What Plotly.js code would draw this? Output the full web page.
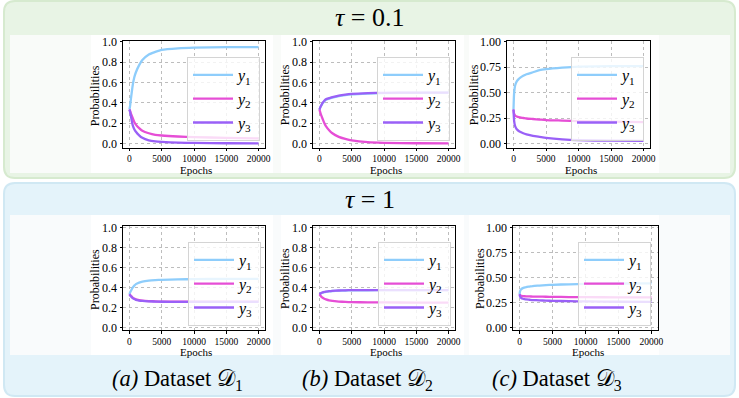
<!DOCTYPE html>
<html>
<head>
<meta charset="utf-8">
<script src="https://cdn.plot.ly/plotly-3.0.1.min.js"></script>
<style>html,body{margin:0;padding:0;background:#fff;}#chart{width:739px;height:398px;}</style>
</head>
<body>
<div id="chart"></div>
<script>
// ---- data ----
const epochs = [0, 100, 250, 500, 750, 1000, 1500, 2000, 3000, 4000, 5000, 7500, 10000, 15000, 20000];
const seriesNames = ['<i>y</i><sub>1</sub>', '<i>y</i><sub>2</sub>', '<i>y</i><sub>3</sub>'];
const panelCaptions = ['<i>(a)</i> Dataset 𝒟<sub>1</sub>', '<i>(b)</i> Dataset 𝒟<sub>2</sub>', '<i>(c)</i> Dataset 𝒟<sub>3</sub>'];
const rowTitles = ['<i>τ</i> = 0.1', '<i>τ</i> = 1'];
const xTitle = 'Epochs';
const yTitle = 'Probabilities';

// tau = 0.1
const t01_d1_y1 = [0.333, 0.37, 0.45, 0.57, 0.65, 0.70, 0.77, 0.82, 0.875, 0.90, 0.92, 0.935, 0.942, 0.946, 0.947];
const t01_d1_y2 = [0.333, 0.32, 0.29, 0.25, 0.21, 0.185, 0.15, 0.125, 0.10, 0.085, 0.078, 0.068, 0.062, 0.055, 0.05];
const t01_d1_y3 = [0.333, 0.31, 0.26, 0.18, 0.14, 0.115, 0.08, 0.055, 0.03, 0.02, 0.015, 0.008, 0.005, 0.002, 0.001];

const t01_d2_y1 = [0.333, 0.35, 0.37, 0.395, 0.415, 0.43, 0.44, 0.45, 0.465, 0.475, 0.482, 0.49, 0.495, 0.498, 0.499];
const t01_d2_y2 = [0.333, 0.31, 0.28, 0.24, 0.20, 0.17, 0.13, 0.10, 0.065, 0.045, 0.03, 0.012, 0.006, 0.002, 0.001];
const t01_d2_y3 = [0.333, 0.35, 0.37, 0.40, 0.42, 0.435, 0.445, 0.455, 0.47, 0.48, 0.487, 0.495, 0.498, 0.50, 0.50];

const t01_d3_y1 = [0.333, 0.50, 0.57, 0.61, 0.63, 0.645, 0.665, 0.68, 0.70, 0.72, 0.73, 0.745, 0.755, 0.76, 0.76];
const t01_d3_y2 = [0.333, 0.29, 0.275, 0.265, 0.26, 0.255, 0.25, 0.245, 0.24, 0.235, 0.23, 0.225, 0.22, 0.215, 0.21];
const t01_d3_y3 = [0.333, 0.22, 0.17, 0.14, 0.125, 0.115, 0.10, 0.09, 0.075, 0.065, 0.055, 0.04, 0.032, 0.027, 0.025];

// tau = 1
const t1_d1_y1 = [0.333, 0.35, 0.37, 0.40, 0.42, 0.435, 0.45, 0.46, 0.47, 0.475, 0.478, 0.482, 0.485, 0.487, 0.488];
const t1_d1_y2 = [0.333, 0.325, 0.315, 0.30, 0.29, 0.282, 0.275, 0.27, 0.265, 0.262, 0.26, 0.26, 0.26, 0.26, 0.26];
const t1_d1_y3 = [0.333, 0.322, 0.31, 0.295, 0.285, 0.277, 0.27, 0.266, 0.262, 0.26, 0.258, 0.257, 0.256, 0.256, 0.256];

const t1_d2_y1 = [0.333, 0.337, 0.344, 0.35, 0.355, 0.358, 0.363, 0.366, 0.369, 0.371, 0.372, 0.373, 0.374, 0.374, 0.375];
const t1_d2_y2 = [0.333, 0.325, 0.312, 0.298, 0.288, 0.282, 0.272, 0.266, 0.26, 0.256, 0.254, 0.252, 0.251, 0.25, 0.25];
const t1_d2_y3 = [0.333, 0.338, 0.345, 0.352, 0.357, 0.36, 0.365, 0.368, 0.371, 0.373, 0.374, 0.375, 0.375, 0.375, 0.375];

const t1_d3_y1 = [0.333, 0.37, 0.385, 0.395, 0.40, 0.405, 0.41, 0.415, 0.42, 0.425, 0.428, 0.433, 0.437, 0.441, 0.443];
const t1_d3_y2 = [0.333, 0.322, 0.318, 0.315, 0.313, 0.312, 0.311, 0.31, 0.309, 0.308, 0.307, 0.305, 0.304, 0.302, 0.301];
const t1_d3_y3 = [0.333, 0.305, 0.295, 0.288, 0.284, 0.281, 0.278, 0.275, 0.272, 0.269, 0.267, 0.264, 0.261, 0.258, 0.256];

const xTickVals = [0, 5000, 10000, 15000, 20000];
const yTicksA = [0, 0.2, 0.4, 0.6, 0.8, 1.0];
const yTickTextA = ['0.0', '0.2', '0.4', '0.6', '0.8', '1.0'];
const yTicksB = [0, 0.25, 0.5, 0.75, 1.0];
const yTickTextB = ['0.00', '0.25', '0.50', '0.75', '1.00'];

// ---- styling / layout ----
const W = 739, H = 398;
const colors = ['#8ecdfb', '#e64ed6', '#9a60f7'];
const SERIF = 'Liberation Serif';
const INK = '#000000';

const panels = [
  {ys: [t01_d1_y1, t01_d1_y2, t01_d1_y3], px: [123, 265], py: [41, 147.5], yr: [-0.04, 1.007], tv: yTicksA, tt: yTickTextA, leg: [187, 57], yt: 95},
  {ys: [t01_d2_y1, t01_d2_y2, t01_d2_y3], px: [313, 455], py: [41, 147.5], yr: [-0.04, 1.007], tv: yTicksA, tt: yTickTextA, leg: [377, 57], yt: 285},
  {ys: [t01_d3_y1, t01_d3_y2, t01_d3_y3], px: [507, 650], py: [41, 147.5], yr: [-0.04, 1.007], tv: yTicksB, tt: yTickTextB, leg: [571, 57], yt: 474},
  {ys: [t1_d1_y1, t1_d1_y2, t1_d1_y3], px: [123, 265], py: [226, 330], yr: [-0.025, 1.017], tv: yTicksA, tt: yTickTextA, leg: [188, 242], yt: 95},
  {ys: [t1_d2_y1, t1_d2_y2, t1_d2_y3], px: [313, 455], py: [226, 330], yr: [-0.025, 1.017], tv: yTicksA, tt: yTickTextA, leg: [378, 242], yt: 285},
  {ys: [t1_d3_y1, t1_d3_y2, t1_d3_y3], px: [513, 658], py: [226, 330], yr: [-0.025, 1.017], tv: yTicksB, tt: yTickTextB, leg: [578, 242], yt: 480},
];

const data = [];
const layout = {
  width: W, height: H,
  margin: {l: 0, r: 0, t: 0, b: 0},
  paper_bgcolor: '#ffffff',
  plot_bgcolor: '#ffffff',
  showlegend: true,
  font: {family: SERIF, color: INK},
  shapes: [],
  annotations: []
};

function fx(p) { return p / W; }
function fy(p) { return 1 - p / H; }
function roundRect(x0, y0, x1, y1, r, fill, line, lw) {
  const rx = r / W, ry = r / H;
  const X0 = fx(x0), X1 = fx(x1), Y0 = fy(y0), Y1 = fy(y1);
  const path = `M ${X0 + rx},${Y0} L ${X1 - rx},${Y0} Q ${X1},${Y0} ${X1},${Y0 - ry} L ${X1},${Y1 + ry} Q ${X1},${Y1} ${X1 - rx},${Y1} L ${X0 + rx},${Y1} Q ${X0},${Y1} ${X0},${Y1 + ry} L ${X0},${Y0 - ry} Q ${X0},${Y0} ${X0 + rx},${Y0} Z`;
  return {type: 'path', xref: 'paper', yref: 'paper', path: path, fillcolor: fill, line: {color: line, width: lw}, layer: 'below'};
}
function rect(x0, y0, x1, y1, fill) {
  return {type: 'rect', xref: 'paper', yref: 'paper', x0: fx(x0), x1: fx(x1), y0: fy(y1), y1: fy(y0), fillcolor: fill, line: {width: 0}, layer: 'below'};
}

// background boxes
layout.shapes.push(roundRect(4, 1, 735, 178, 11, '#e8f4e5', '#d6eacf', 2));
layout.shapes.push(rect(10, 35, 730, 173, '#f9fbf9'));
layout.shapes.push(roundRect(4, 183, 735, 396, 11, '#e4f3fa', '#d0e8f3', 2));
layout.shapes.push(rect(10, 215, 730, 355, '#f9fbfc'));
[[91, 273], [281, 464], [469, 659]].forEach(r => {
  layout.shapes.push(rect(r[0], 35, r[1], 173, '#ffffff'));
  layout.shapes.push(rect(r[0], 215, r[1], 355, '#ffffff'));
});

panels.forEach((p, i) => {
  const n = i + 1;
  const sfx = n === 1 ? '' : String(n);
  const lg = 'legend' + sfx;
  p.ys.forEach((vals, k) => {
    data.push({
      x: epochs, y: vals, type: 'scatter', mode: 'lines',
      name: seriesNames[k], line: {color: colors[k], width: 2.3, shape: 'spline', smoothing: 0.6},
      xaxis: 'x' + sfx, yaxis: 'y' + sfx,
      legend: lg, showlegend: true
    });
  });
  const common = {
    showline: true, mirror: true, linecolor: '#000', linewidth: 1,
    ticks: 'outside', ticklen: 2.5, tickcolor: '#000', tickwidth: 1,
    showgrid: true, gridcolor: '#bdbdbd', griddash: 'dot', gridwidth: 1,
    zeroline: false
  };
  layout['xaxis' + sfx] = Object.assign({}, common, {
    domain: [fx(p.px[0]), fx(p.px[1])], anchor: 'y' + sfx,
    range: [-1000, 21000], tickvals: xTickVals, ticktext: xTickVals.map(String),
    tickfont: {family: SERIF, size: 9.5, color: INK}
  });
  layout['yaxis' + sfx] = Object.assign({}, common, {
    domain: [fy(p.py[1]), fy(p.py[0])], anchor: 'x' + sfx,
    range: p.yr, tickvals: p.tv, ticktext: p.tt,
    tickfont: {family: SERIF, size: 12, color: INK}
  });
  layout[lg] = {
    x: fx(p.leg[0]), y: fy(p.leg[1]), xanchor: 'left', yanchor: 'top',
    xref: 'paper', yref: 'paper',
    bgcolor: 'rgba(255,255,255,0.8)', bordercolor: '#d4d4d4', borderwidth: 1,
    font: {family: SERIF, size: 16, color: INK}, itemwidth: 40, tracegroupgap: 0
  };
  // axis titles placed at the reference positions
  layout.annotations.push({text: xTitle, xref: 'paper', yref: 'paper', x: fx((p.px[0] + p.px[1]) / 2 + 2), y: fy(p.py[1] + 22),
    xanchor: 'center', yanchor: 'middle', showarrow: false, font: {family: SERIF, size: 11, color: INK}});
  layout.annotations.push({text: yTitle, xref: 'paper', yref: 'paper', x: fx(p.yt), y: fy((p.py[0] + p.py[1]) / 2 + 1), textangle: -90,
    xanchor: 'center', yanchor: 'middle', showarrow: false, font: {family: SERIF, size: 12, color: INK}});
});

// row headers
layout.annotations.push({text: rowTitles[0], xref: 'paper', yref: 'paper', x: 0.5, y: fy(18), xanchor: 'center', yanchor: 'middle', showarrow: false, font: {family: SERIF, size: 26, color: INK}});
layout.annotations.push({text: rowTitles[1], xref: 'paper', yref: 'paper', x: 0.5, y: fy(200), xanchor: 'center', yanchor: 'middle', showarrow: false, font: {family: SERIF, size: 26, color: INK}});
// captions
[177, 367, 557].forEach((cx, i) => {
  layout.annotations.push({text: panelCaptions[i], xref: 'paper', yref: 'paper', x: fx(cx), y: fy(380), xanchor: 'center', yanchor: 'middle', showarrow: false, font: {family: SERIF, size: 22.5, color: INK}});
});

Plotly.newPlot('chart', data, layout, {staticPlot: true, displayModeBar: false});
</script>
</body>
</html>
